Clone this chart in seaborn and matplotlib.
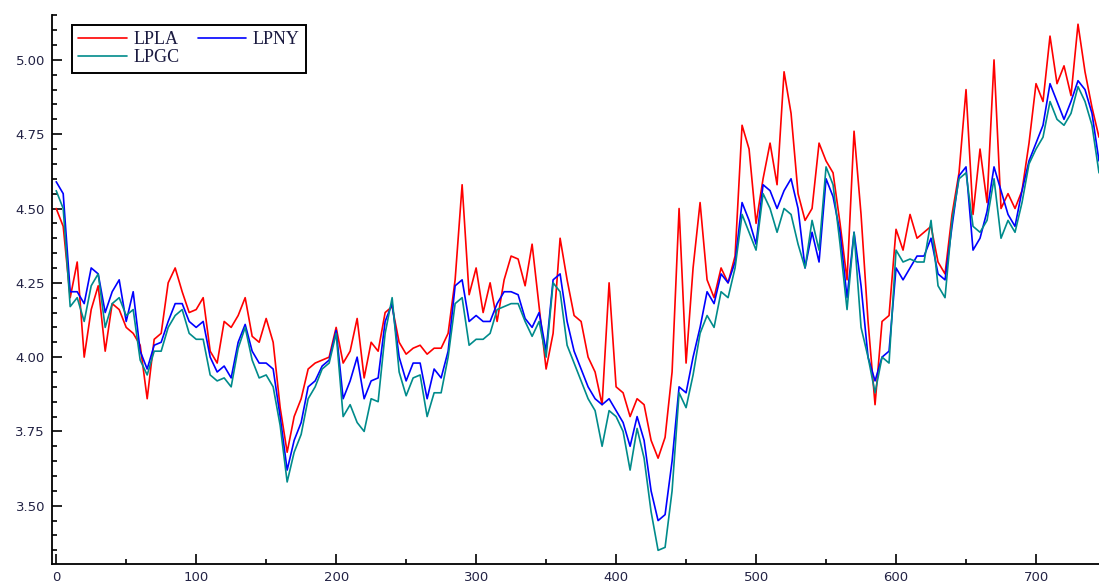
import matplotlib

matplotlib.use("Agg")  # headless

import matplotlib.pyplot as plt  # noqa: E402
import pandas as pd  # noqa: E402
import seaborn as sns  # noqa: E402
from matplotlib.ticker import FormatStrFormatter, MultipleLocator  # noqa: E402

# observation index, read every 5 obs off the reference
obs = list(range(0, 750, 5))

lpla = [
    4.50, 4.44, 4.20, 4.32, 4.00, 4.16, 4.24, 4.02, 4.18, 4.16,
    4.10, 4.08, 4.04, 3.86, 4.06, 4.08, 4.25, 4.30, 4.22, 4.15,
    4.16, 4.20, 4.02, 3.98, 4.12, 4.10, 4.14, 4.20, 4.07, 4.05,
    4.13, 4.05, 3.83, 3.68, 3.80, 3.86, 3.96, 3.98, 3.99, 4.00,
    4.10, 3.98, 4.02, 4.13, 3.93, 4.05, 4.02, 4.15, 4.17, 4.05,
    4.01, 4.03, 4.04, 4.01, 4.03, 4.03, 4.08, 4.26, 4.58, 4.21,
    4.30, 4.15, 4.25, 4.12, 4.26, 4.34, 4.33, 4.24, 4.38, 4.17,
    3.96, 4.08, 4.40, 4.26, 4.14, 4.12, 4.00, 3.95, 3.84, 4.25,
    3.90, 3.88, 3.80, 3.86, 3.84, 3.72, 3.66, 3.73, 3.95, 4.50,
    3.98, 4.30, 4.52, 4.26, 4.20, 4.30, 4.25, 4.34, 4.78, 4.70,
    4.45, 4.60, 4.72, 4.58, 4.96, 4.82, 4.55, 4.46, 4.50, 4.72,
    4.66, 4.62, 4.45, 4.26, 4.76, 4.48, 4.12, 3.84, 4.12, 4.14,
    4.43, 4.36, 4.48, 4.40, 4.42, 4.44, 4.32, 4.28, 4.48, 4.62,
    4.90, 4.48, 4.70, 4.52, 5.00, 4.50, 4.55, 4.50, 4.56, 4.72,
    4.92, 4.86, 5.08, 4.92, 4.98, 4.88, 5.12, 4.96, 4.84, 4.74,
]
lpny = [
    4.59, 4.55, 4.22, 4.22, 4.18, 4.30, 4.28, 4.15, 4.22, 4.26,
    4.12, 4.22, 4.02, 3.96, 4.04, 4.05, 4.12, 4.18, 4.18, 4.12,
    4.10, 4.12, 4.00, 3.95, 3.97, 3.93, 4.05, 4.11, 4.02, 3.98,
    3.98, 3.96, 3.80, 3.62, 3.72, 3.78, 3.90, 3.92, 3.97, 3.99,
    4.09, 3.86, 3.92, 4.00, 3.86, 3.92, 3.93, 4.12, 4.18, 4.00,
    3.92, 3.98, 3.98, 3.86, 3.96, 3.93, 4.02, 4.24, 4.26, 4.12,
    4.14, 4.12, 4.12, 4.18, 4.22, 4.22, 4.21, 4.13, 4.10, 4.15,
    4.02, 4.26, 4.28, 4.12, 4.02, 3.96, 3.90, 3.86, 3.84, 3.86,
    3.82, 3.78, 3.70, 3.80, 3.72, 3.55, 3.45, 3.47, 3.65, 3.90,
    3.88, 4.00, 4.10, 4.22, 4.18, 4.28, 4.25, 4.32, 4.52, 4.46,
    4.38, 4.58, 4.56, 4.50, 4.56, 4.60, 4.50, 4.30, 4.42, 4.32,
    4.60, 4.54, 4.42, 4.20, 4.42, 4.24, 4.00, 3.92, 4.00, 4.02,
    4.30, 4.26, 4.30, 4.34, 4.34, 4.40, 4.28, 4.26, 4.44, 4.61,
    4.64, 4.36, 4.40, 4.49, 4.64, 4.56, 4.48, 4.44, 4.56, 4.66,
    4.72, 4.78, 4.92, 4.86, 4.80, 4.86, 4.93, 4.90, 4.82, 4.66,
]
lpgc = [
    4.56, 4.50, 4.17, 4.20, 4.12, 4.24, 4.28, 4.10, 4.18, 4.20,
    4.14, 4.16, 3.99, 3.94, 4.02, 4.02, 4.10, 4.14, 4.16, 4.08,
    4.06, 4.06, 3.94, 3.92, 3.93, 3.90, 4.03, 4.10, 3.99, 3.93,
    3.94, 3.90, 3.77, 3.58, 3.68, 3.74, 3.86, 3.90, 3.96, 3.98,
    4.08, 3.80, 3.84, 3.78, 3.75, 3.86, 3.85, 4.08, 4.20, 3.95,
    3.87, 3.93, 3.94, 3.80, 3.88, 3.88, 4.00, 4.18, 4.20, 4.04,
    4.06, 4.06, 4.08, 4.16, 4.17, 4.18, 4.18, 4.12, 4.07, 4.12,
    4.00, 4.25, 4.22, 4.04, 3.98, 3.92, 3.86, 3.82, 3.70, 3.82,
    3.80, 3.75, 3.62, 3.76, 3.66, 3.48, 3.35, 3.36, 3.55, 3.88,
    3.83, 3.94, 4.08, 4.14, 4.10, 4.22, 4.20, 4.30, 4.48, 4.42,
    4.36, 4.55, 4.50, 4.42, 4.50, 4.48, 4.38, 4.30, 4.46, 4.36,
    4.64, 4.58, 4.38, 4.16, 4.42, 4.10, 4.00, 3.88, 4.00, 3.98,
    4.36, 4.32, 4.33, 4.32, 4.32, 4.46, 4.24, 4.20, 4.46, 4.60,
    4.62, 4.44, 4.42, 4.46, 4.60, 4.40, 4.46, 4.42, 4.52, 4.65,
    4.70, 4.74, 4.86, 4.80, 4.78, 4.82, 4.91, 4.86, 4.78, 4.62,
]

series_names = ["LPLA", "LPNY", "LPGC"]
series_colors = ["#ff0000", "#0000ff", "#008b8b"]

df = pd.DataFrame({"t": obs, "LPLA": lpla, "LPNY": lpny, "LPGC": lpgc})
long_df = df.melt(id_vars="t", var_name="series", value_name="value")

sns.set_style("ticks")
plt.rcParams["font.family"] = ["DejaVu Sans"]

fig = plt.figure(figsize=(10.99, 5.82), dpi=100)
ax = fig.add_axes([52 / 1099, 18 / 582, 1047 / 1099, 549 / 582])

sns.lineplot(
    data=long_df,
    x="t",
    y="value",
    hue="series",
    hue_order=series_names,
    palette=dict(zip(series_names, series_colors)),
    linewidth=1.2,
    errorbar=None,
    legend=False,
    ax=ax,
)

ax.set_xlim(-3, 745)
ax.set_ylim(3.304, 5.151)
ax.set_xlabel("")
ax.set_ylabel("")

ax.xaxis.set_major_locator(MultipleLocator(100))
ax.xaxis.set_minor_locator(MultipleLocator(50))
ax.yaxis.set_major_locator(MultipleLocator(0.25))
ax.yaxis.set_minor_locator(MultipleLocator(0.05))
ax.yaxis.set_major_formatter(FormatStrFormatter("%.2f"))

ax.tick_params(which="both", direction="in", color="black", width=1.2)
ax.tick_params(which="major", length=7, labelsize=9.5, labelcolor="#222244", pad=5)
ax.tick_params(which="minor", length=3.5)

for side in ("top", "right"):
    ax.spines[side].set_visible(False)
for side in ("left", "bottom"):
    ax.spines[side].set_linewidth(1.3)
    ax.spines[side].set_color("black")

# legend: two columns, LPLA / LPNY on first row, LPGC below
lines = {ln_name: ln for ln_name, ln in zip(series_names, ax.get_lines())}
handles = [lines["LPLA"], lines["LPGC"], lines["LPNY"]]
labels = ["LPLA", "LPGC", "LPNY"]
leg = ax.legend(
    handles,
    labels,
    ncol=2,
    loc="upper left",
    bbox_to_anchor=(72 / 1099, 1 - 25 / 582),
    bbox_transform=fig.transFigure,
    borderaxespad=0,
    frameon=True,
    fancybox=False,
    handlelength=2.7,
    handletextpad=0.35,
    columnspacing=1.0,
    labelspacing=0.05,
    borderpad=0.35,
    prop={"family": "Liberation Serif", "size": 13},
)
leg.get_frame().set_edgecolor("black")
leg.get_frame().set_linewidth(1.4)
leg.get_frame().set_alpha(1)
for txt in leg.get_texts():
    txt.set_color("#1a1a40")

fig.savefig("out.png", dpi=100)
plt.close(fig)
